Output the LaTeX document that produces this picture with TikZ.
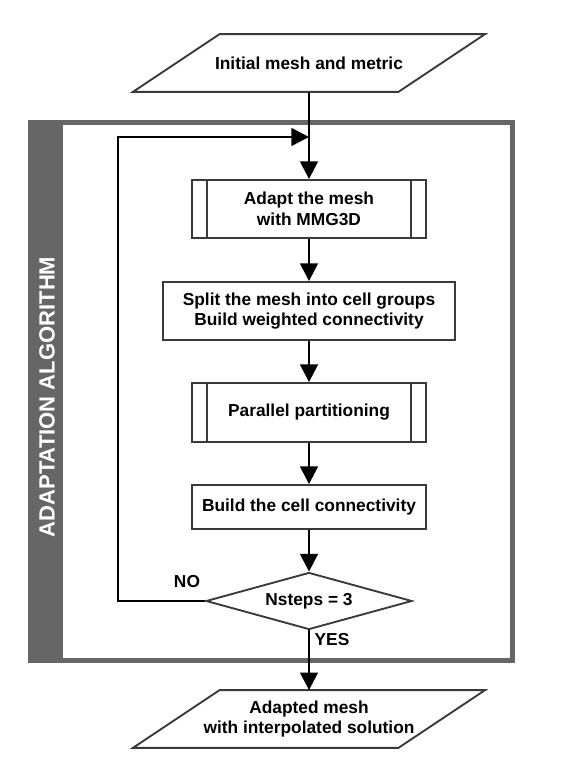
\documentclass[tikz,border=0pt]{standalone}
\usepackage{fontspec}
\setmainfont{Liberation Sans}
\usetikzlibrary{shapes.geometric,arrows.meta}

\definecolor{framegray}{HTML}{666666}
\definecolor{edgegray}{HTML}{3A3A3A}

\tikzset{
	txt/.style={font=\fontsize{14.8}{17.5}\selectfont\bfseries, align=center},
	procbox/.style={txt, draw=edgegray, line width=1.6pt, fill=white, minimum width=7.02cm, inner sep=0pt},
	subproc/.style={procbox, path picture={
		\draw[edgegray, line width=1.6pt] ([xshift=0.45cm]path picture bounding box.north west) -- ([xshift=0.45cm]path picture bounding box.south west);
		\draw[edgegray, line width=1.6pt] ([xshift=-0.45cm]path picture bounding box.north east) -- ([xshift=-0.45cm]path picture bounding box.south east);}},
	iobox/.style={txt, minimum width=7.95cm, minimum height=1.72cm, inner sep=0pt},
	iopath/.style={draw=edgegray, line width=1.6pt, fill=white},
	testbox/.style={txt, diamond, draw=edgegray, line width=1.6pt, fill=white, aspect=3.6, inner sep=0pt, minimum width=6.18cm, minimum height=1.71cm},
	flow/.style={line width=2.2pt, -{Triangle[length=15pt,width=15pt]}}
}

\begin{document}
\begin{tikzpicture}[x=0.03cm,y=-0.03cm]
	\useasboundingbox (0,0) rectangle (572,769);
	\fill[framegray] (28,120) rectangle (515,663);
	\fill[white] (63,125) rectangle (510,658);
	\node[txt, text=white, font=\fontsize{18.8}{21}\selectfont\bfseries, rotate=90] (title) at (47,397) {ADAPTATION ALGORITHM};

	\node[iobox] (init) at (309,63) {};
	\draw[iopath] ([xshift=-1.3cm]init.south west) -- ([xshift=-1.3cm]init.south east) -- ([xshift=1.3cm]init.north east) -- ([xshift=1.3cm]init.north west) -- cycle;
	\node[txt] at (init) {Initial mesh and metric};

	\node[subproc, minimum height=1.74cm] (adapt) at (309,209) {Adapt the mesh\\with MMG3D};
	\node[procbox, minimum width=8.76cm, minimum height=1.74cm] (split) at (309,311) {Split the mesh into cell groups\\Build weighted connectivity};
	\node[subproc, minimum height=1.77cm] (part) at (309,412.5) {Parallel partitioning};
	\node[procbox, minimum height=1.32cm] (conn) at (309,507) {Build the cell connectivity};
	\node[testbox] (test) at (309,601) {Nsteps = 3};

	\node[iobox] (final) at (309,719) {};
	\draw[iopath] ([xshift=-1.3cm]final.south west) -- ([xshift=-1.3cm]final.south east) -- ([xshift=1.3cm]final.north east) -- ([xshift=1.3cm]final.north west) -- cycle;
	\node[txt] at (final) {Adapted mesh\\with interpolated solution};

	\coordinate (merge) at (309,137);
	\draw[flow] (init.south) -- (adapt.north);
	\draw[flow] (adapt.south) -- (split.north);
	\draw[flow] (split.south) -- (part.north);
	\draw[flow] (part.south) -- (conn.north);
	\draw[flow] (conn.south) -- (test.north);
	\draw[flow] (test.south) -- (final.north);
	\draw[flow] (test.west) -- ++(-87,0) |- (merge);

	\node[txt] (no) at (187,582) {NO};
	\node[txt] (yes) at (332,640) {YES};
\end{tikzpicture}
\end{document}
